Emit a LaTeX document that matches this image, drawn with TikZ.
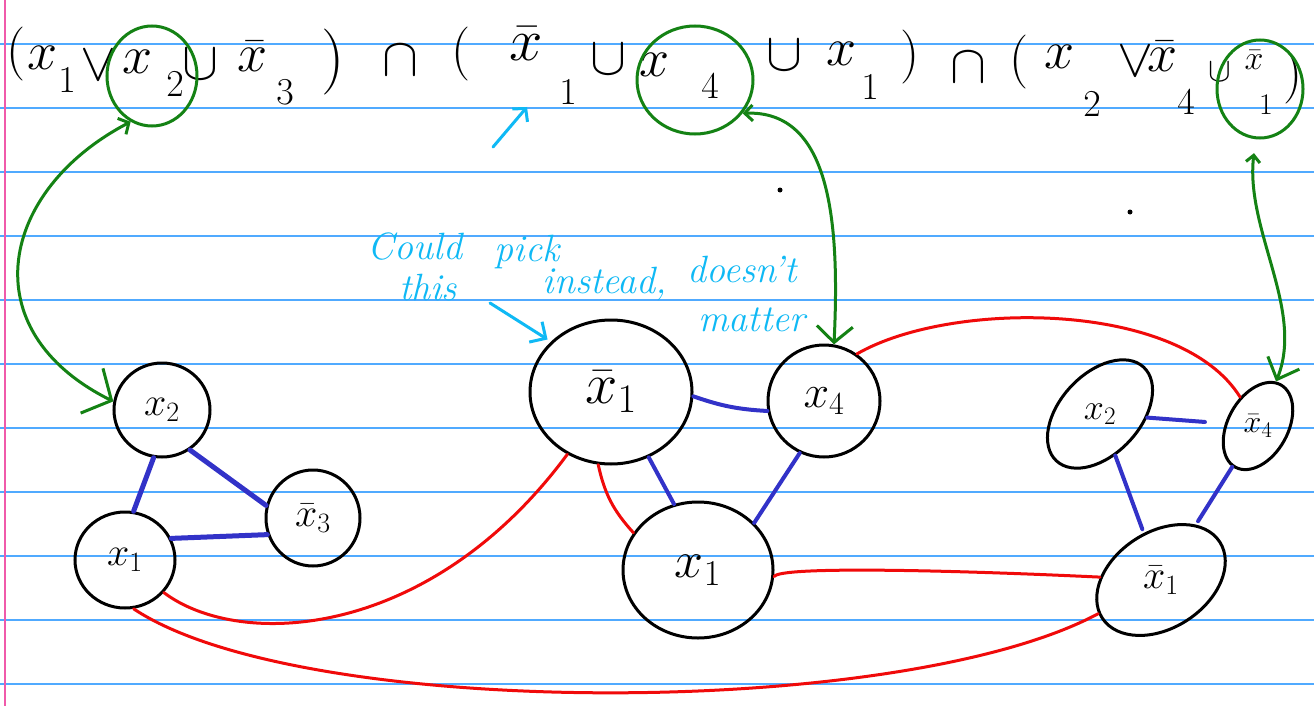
\RequirePackage{fix-cm}
\documentclass[tikz,border=0pt]{standalone}
\usetikzlibrary{shapes.geometric,arrows.meta}
\definecolor{ruleblue}{RGB}{80,170,255}
\definecolor{marginpink}{RGB}{240,90,170}
\definecolor{gr}{RGB}{20,130,20}
\definecolor{bl}{RGB}{50,50,200}
\definecolor{rd}{RGB}{240,10,10}
\definecolor{cy}{RGB}{15,185,245}
\tikzset{
  tok/.style={inner sep=0pt, font=\fontsize{54}{54}\selectfont},
  subtok/.style={inner sep=0pt, font=\fontsize{38}{38}\selectfont},
  vert/.style={shape=ellipse, draw=black, line width=3pt, inner sep=0pt, font=\fontsize{40}{40}\selectfont},
  gcirc/.style={shape=ellipse, draw=gr, line width=3pt, inner sep=0pt},
  bedge/.style={draw=bl, line width=4pt, line cap=round},
  redge/.style={draw=rd, line width=3pt, line cap=round},
  gedge/.style={draw=gr, line width=3pt, line cap=round, line join=round},
  cedge/.style={draw=cy, line width=3pt, line cap=round, line join=round},
  note/.style={inner sep=0pt, text=cy, font=\fontsize{38}{38}\selectfont\itshape},
}
\begin{document}
\begin{tikzpicture}[x=1pt,y=-1pt]
\useasboundingbox (0,0) rectangle (1314,706);
\fill[white] (0,0) rectangle (1314,706);
% ruled paper
\foreach \yy in {44,108,...,684} \draw[ruleblue, line width=1.5pt] (0,\yy) -- (1314,\yy);
\draw[marginpink, line width=1.5pt] (5,0) -- (5,706);

% formula
\node[tok] (t1) at (16,54) {$($};
\node[tok] (t2) at (43,58) {$x$};
\node[subtok] (t3) at (67,80) {$1$};
\node[tok] (t4) at (98,66) {$\vee$};
\node[tok] (t5) at (138,62) {$x$};
\node[subtok] (t6) at (175,84) {$2$};
\node[tok] (t7) at (200,65) {$\cup$};
\node[tok] (t8) at (253,56) {$\bar{x}$};
\node[subtok] (t9) at (285,92) {$3$};
\node[tok, font=\fontsize{66}{66}\selectfont] (t10) at (333,62) {$)$};
\node[tok] (t11) at (400,61) {$\cap$};
\node[tok] (t12) at (461,54) {$($};
\node[tok, font=\fontsize{60}{60}\selectfont] (t13) at (526,44) {$\bar{x}$};
\node[subtok] (t14) at (568,92) {$1$};
\node[tok] (t15) at (608,60) {$\cup$};
\node[tok] (t16) at (655,65) {$x$};
\node[subtok] (t17) at (710,86) {$4$};
\node[tok] (t18) at (784,56) {$\cup$};
\node[tok] (t19) at (842,54) {$x$};
\node[subtok] (t20) at (870,87) {$1$};
\node[tok] (t21) at (910,57) {$)$};
\node[tok] (t22) at (968,68) {$\cap$};
\node[tok] (t23) at (1019,62) {$($};
\node[tok] (t24) at (1060,57) {$x$};
\node[subtok] (t25) at (1092,104) {$2$};
\node[tok] (t26) at (1135,62) {$\vee$};
\node[tok] (t27) at (1163,56) {$\bar{x}$};
\node[subtok] (t28) at (1186,102) {$4$};
\node[tok, font=\fontsize{34}{34}\selectfont] (t29) at (1220,72) {$\cup$};
\node[tok, font=\fontsize{34}{34}\selectfont] (t30) at (1254,60) {$\bar{x}$};
\node[subtok, font=\fontsize{30}{30}\selectfont] (t31) at (1266,105) {$1$};
\node[tok] (t32) at (1293,77) {$)$};

% green circles in formula
\node[gcirc, minimum width=90pt, minimum height=100pt] (C2) at (152,76) {};
\node[gcirc, minimum width=116pt, minimum height=108pt] (C4) at (695,80) {};
\node[gcirc, minimum width=86pt, minimum height=98pt] (C1b) at (1260,89) {};

% vertices (labels are the node texts)
\node[vert, minimum width=96pt, minimum height=94pt] (LX2) at (162,410) {$x_2$};
\node[vert, minimum width=94pt, minimum height=96pt] (LX3b) at (313,518) {$\bar{x}_3$};
\node[vert, minimum width=100pt, minimum height=96pt] (LX1) at (125,560) {$x_1$};

\node[vert, minimum width=162pt, minimum height=144pt, font=\fontsize{58}{58}\selectfont] (MX1b) at (611,392) {$\bar{x}_1$};
\node[vert, minimum width=112pt, minimum height=112pt, font=\fontsize{46}{46}\selectfont] (MX4) at (824,401) {$x_4$};
\node[vert, minimum width=150pt, minimum height=136pt, font=\fontsize{52}{52}\selectfont] (MX1) at (698,570) {$x_1$};

\node[vert, minimum width=128pt, minimum height=80pt, rotate=47, font=\fontsize{36}{36}\selectfont] (RX2) at (1100,414) {\rotatebox{-47}{$x_2$}};
\node[vert, minimum width=94pt, minimum height=60pt, rotate=61, font=\fontsize{32}{32}\selectfont] (RX4b) at (1258,426) {\rotatebox{-61}{$\bar{x}_4$}};
\node[vert, minimum width=140pt, minimum height=96pt, rotate=33] (RX1b) at (1161,580) {\rotatebox{-33}{$\bar{x}_1$}};

% blue edges
\draw[bedge, line width=5pt] (LX2.-100) -- (LX1.80);
\draw[bedge, line width=5pt] (LX2.-55) -- (LX3b.165);
\draw[bedge, line width=5pt] (LX1.25) -- (LX3b.200);
\draw[bedge] (MX1b.-3) to[bend right=8] (MX4.190);
\draw[bedge] (MX1b.-60) -- (MX1.110);
\draw[bedge] (MX4.-115) -- (MX1.40);
\draw[bedge, shorten <=20pt] (RX4b) -- (RX2);
\draw[bedge, shorten <=4pt] (RX1b) -- (RX2);
\draw[bedge, shorten <=4pt] (RX1b) -- (RX4b);

% red edges
\draw[redge] (MX4.55) .. controls (950,300) and (1180,300) .. (RX4b);
\draw[redge] (MX1.-5) .. controls (778,566) and (950,570) .. (RX1b);
\draw[redge] (MX1b.-125) .. controls (430,640) and (240,650) .. (LX1.-40);
\draw[redge] (LX1.-80) .. controls (300,720) and (900,720) .. (RX1b);
\draw[redge] (MX1b.-100) to[bend right=15] (MX1.150);

% green arrows
\draw[gedge, {Straight Barb[length=8pt,width=18pt]}-{Straight Barb[length=22pt,width=50pt]}]
  (C2.-115) .. controls (0,190) and (-30,330) .. (LX2.170);
\draw[gedge, {Straight Barb[length=8pt,width=16pt]}-{Straight Barb[length=16pt,width=36pt]}]
  (C4.-35) .. controls (830,110) and (840,220) .. (MX4.80);
\draw[gedge, shorten <=14pt, {Straight Barb[length=7pt,width=14pt]}-{Straight Barb[length=18pt,width=34pt]}]
  (C1b.-95) .. controls (1245,230) and (1305,310) .. (RX4b);

% cyan notes
\node[note] (n1) at (415,247) {Could};
\node[note] (n2) at (527,252) {pick};
\node[note] (n3) at (428,288) {this};
\node[note] (n4) at (605,284) {instead,};
\node[note] (n5) at (742,270) {doesn't};
\node[note] (n6) at (752,320) {matter};
\coordinate (ca1) at (493,147);
\coordinate (ca2) at (527,107);
\draw[cedge, -{Straight Barb[length=9pt,width=20pt]}] (ca1) -- (ca2);
\coordinate (ca3) at (490,303);
\draw[cedge, shorten >=4pt, -{Straight Barb[length=12pt,width=24pt]}] (ca3) -- (MX1b.140);

% stray dots
\fill (780,190) circle (2.5);
\fill (1130,212) circle (2.5);
\end{tikzpicture}
\end{document}
